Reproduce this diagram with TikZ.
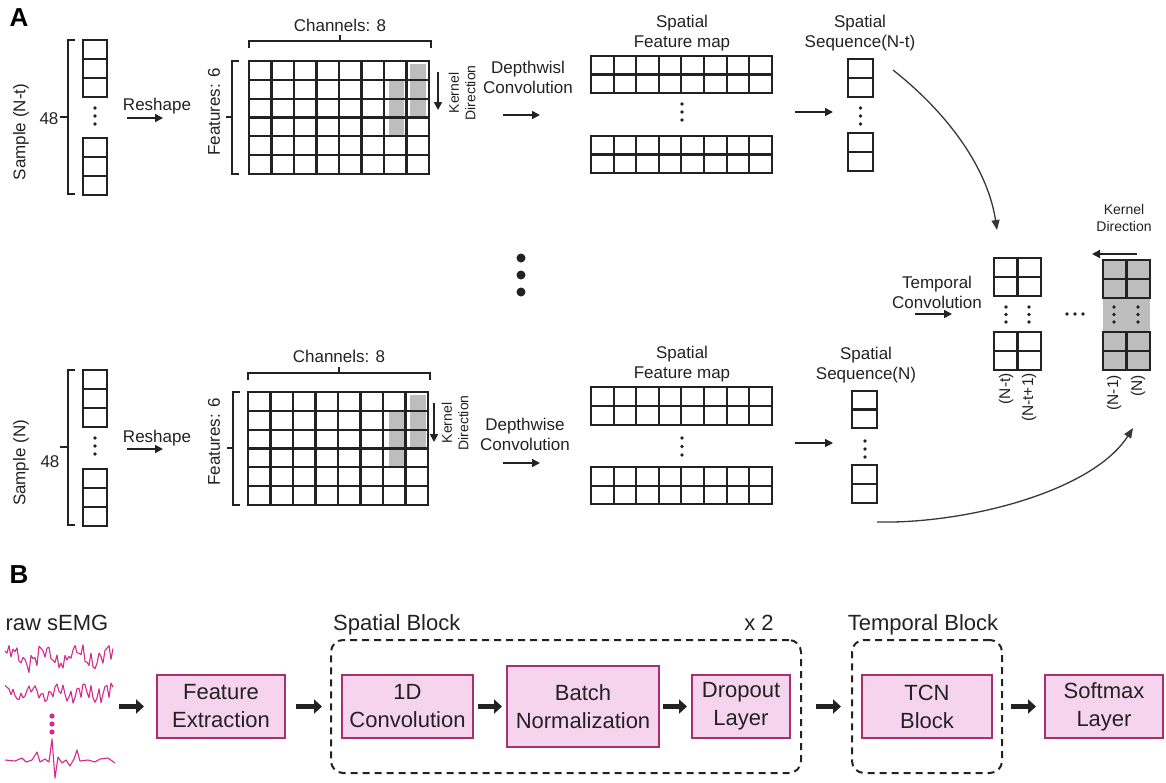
\documentclass[tikz,border=0pt]{standalone}
\usepackage{fontspec}
\setmainfont{Liberation Sans}
\usetikzlibrary{arrows.meta, positioning, fit}
\definecolor{emg}{HTML}{D52A8A}
\definecolor{blockfill}{HTML}{F7D4EE}
\definecolor{blockline}{HTML}{A5326C}
\definecolor{kernelgray}{HTML}{BDBDBD}
\definecolor{ink}{HTML}{222222}
\tikzset{
  cell/.style={draw=ink, line width=2.1pt},
  lbl/.style={font=\fontsize{17}{20}\selectfont, text=ink, align=center, inner sep=0pt},
  small/.style={font=\fontsize{14}{16.5}\selectfont, text=ink, align=center, inner sep=0pt},
  tiny/.style={font=\fontsize{15.5}{18}\selectfont, text=ink, inner sep=0pt},
  arr/.style={draw=ink, line width=1.6pt, -{Triangle[length=8pt,width=8pt]}},
  curvearr/.style={draw=ink!90, line width=1.3pt, -{Triangle[length=10pt,width=8pt]}},
  brk/.style={draw=ink, line width=1.6pt},
  block/.style={draw=blockline, fill=blockfill, line width=2pt, align=center,
    font=\fontsize{22}{28}\selectfont, text=ink, inner sep=0pt},
  group/.style={draw=ink, dash pattern=on 7pt off 5pt, line width=2pt,
    rounded corners=12pt, inner sep=0pt},
  fat/.style={line width=5pt, ink, -{Triangle[length=8pt,width=14pt]}},
  wave/.style={emg, line width=1.1pt, line join=round},
  btext/.style={font=\fontsize{22}{26}\selectfont, text=ink, inner sep=0pt},
}
% x, y, columns, rows, cell width, cell height
\newcommand{\cellgrid}[6]{%
  \foreach \ci in {1,...,#3}{\foreach \cj in {1,...,#4}{%
    \draw[cell] ({#1+(\ci-1)*#5},{#2+(\cj-1)*#6}) rectangle ++(#5,#6);}}}
% x, y, gap
\newcommand{\tripledots}[3]{%
  \foreach \k in {0,1,2}{\fill[ink] ({#1},{#2+\k*#3}) circle (1.9);}}

\begin{document}
\begin{tikzpicture}[x=1pt, y=-1pt]
  \useasboundingbox (0,0) rectangle (1166,782);

  \node[font=\fontsize{26}{26}\selectfont\bfseries, inner sep=0pt] (labA) at (19,18) {A};
  \node[font=\fontsize{26}{26}\selectfont\bfseries, inner sep=0pt] (labB) at (19,575) {B};

  % sample N-t
  \draw[brk] (75,40) -- (68,40) -- (68,194) -- (75,194) (60,117) -- (68,117);
  \node[lbl] (lenA) at (49,119) {48};
  \node[lbl, rotate=90] (sampA) at (21,132) {Sample (N-t)};
  \cellgrid{83}{40}{1}{3}{24}{19}
  \cellgrid{83}{138}{1}{3}{24}{19}
  \tripledots{95}{108}{8}
  \node[lbl, anchor=base] (reshA) at (157,110) {Reshape};
  \draw[arr] (127,118) -- (163,118);

  % reshaped input N-t
  \fill[kernelgray] (389,80) rectangle (404,136);
  \fill[kernelgray] (410,64) rectangle (426,117);
  \cellgrid{249}{61}{8}{6}{22.5}{18.83}
  \draw[brk] (249,48) -- (249,41) -- (431,41) -- (431,48) (340,41) -- (340,35);
  \node[lbl, anchor=base] (chanA) at (340,31) {Channels: 8};
  \draw[brk] (239,61) -- (232,61) -- (232,174) -- (239,174) (226,117) -- (232,117);
  \node[lbl, rotate=90] (featA) at (214,112) {Features: 6};
  \draw[arr] (438,72) -- (438,110);
  \node[small, rotate=90] (kernA) at (462,93) {Kernel\\Direction};

  \node[lbl] (dwA) at (528,77) {Depthwisl\\Convolution};
  \draw[arr] (503,115) -- (540,115);

  % spatial feature map N-t
  \cellgrid{591}{56}{8}{2}{22.6}{18.5}
  \cellgrid{591}{136}{8}{2}{22.6}{18.5}
  \tripledots{682}{104}{8}
  \node[lbl] (mapA) at (682,33) {Spatial\\Feature map};
  \draw[arr] (795,112) -- (833,112);

  \cellgrid{848}{59}{1}{2}{25}{19}
  \cellgrid{848}{133}{1}{2}{25}{19}
  \tripledots{860.5}{108}{8}
  \node[lbl] (seqA) at (860,33) {Spatial\\Sequence(N-t)};

  \foreach \k in {258,275,292}{\fill[ink] (521,\k) circle (4.5);}

  % sample N
  \draw[brk] (75,370) -- (68,370) -- (68,525) -- (75,525) (60,447) -- (68,447);
  \node[lbl] (lenB) at (50,462) {48};
  \node[lbl, rotate=90] (sampB) at (21,463) {Sample (N)};
  \cellgrid{83}{370}{1}{3}{24}{19}
  \cellgrid{83}{469}{1}{3}{24}{19}
  \tripledots{95}{438}{8}
  \node[lbl, anchor=base] (reshB) at (157,442) {Reshape};
  \draw[arr] (127,449) -- (163,449);

  % reshaped input N
  \fill[kernelgray] (389,411) rectangle (404,467);
  \fill[kernelgray] (410,395) rectangle (426,448);
  \cellgrid{248}{392}{8}{6}{22.5}{18.83}
  \draw[brk] (248,380) -- (248,373) -- (430,373) -- (430,380) (339,373) -- (339,367);
  \node[lbl, anchor=base] (chanB) at (339,362) {Channels: 8};
  \draw[brk] (240,392) -- (233,392) -- (233,505) -- (240,505) (227,448) -- (233,448);
  \node[lbl, rotate=90] (featB) at (214,442) {Features: 6};
  \draw[arr] (434,403) -- (434,442);
  \node[small, rotate=90] (kernB) at (455,423) {Kernel\\Direction};

  \node[lbl] (dwB) at (525,434) {Depthwise\\Convolution};
  \draw[arr] (503,463) -- (540,463);

  % spatial feature map N
  \cellgrid{591}{387}{8}{2}{22.6}{18.8}
  \cellgrid{591}{467}{8}{2}{22.6}{18.6}
  \tripledots{682}{438}{8.5}
  \node[lbl] (mapB) at (682,364) {Spatial\\Feature map};
  \draw[arr] (795,443) -- (833,443);

  \cellgrid{852}{391}{1}{2}{25}{18.5}
  \cellgrid{852}{465}{1}{2}{25}{19}
  \tripledots{865}{441}{8}
  \node[lbl] (seqB) at (866,365) {Spatial\\Sequence(N)};

  % temporal convolution
  \node[lbl] (tcA) at (937,292) {Temporal\\Convolution};
  \draw[arr] (915,314) -- (952,314);
  \cellgrid{994}{258}{2}{2}{23.5}{19}
  \cellgrid{994}{332}{2}{2}{23.5}{19}
  \tripledots{1006}{307}{7.5}
  \tripledots{1029}{307}{7.5}
  \foreach \k in {1067,1075,1083}{\fill[ink] (\k,314) circle (1.9);}
  \fill[kernelgray] (1103,260) rectangle (1150,370);
  \cellgrid{1103}{260}{2}{2}{23.5}{19}
  \cellgrid{1103}{332}{2}{2}{23.5}{19}
  \tripledots{1114}{307}{7.5}
  \tripledots{1138}{307}{7.5}
  \draw[arr] (1137,254) -- (1092,254);
  \node[small] (kernT) at (1124,218) {Kernel\\Direction};
  \node[tiny, rotate=90, anchor=east] (stA) at (1006,373) {(N-t)};
  \node[tiny, rotate=90, anchor=east] (stB) at (1029,373) {(N-t+1)};
  \node[tiny, rotate=90, anchor=east] (stC) at (1114,375) {(N-1)};
  \node[tiny, rotate=90, anchor=east] (stD) at (1138,375) {(N)};

  \draw[curvearr] (893,70) .. controls (950,115) and (988,170) .. (997,230);
  \draw[curvearr] (877,522) .. controls (965,524) and (1092,492) .. (1133,428);

  % raw signals
  \node[btext] (raw) at (57,623) {raw sEMG};
  \draw[wave] plot[domain=0:108, samples=55]
    (\x+5, {657 - 7*sin(\x*11+20) - 5*sin(\x*43) - 4*sin(\x*97+60) - 2*sin(\x*131)});
  \draw[wave] plot[domain=0:108, samples=55]
    (\x+5, {693 - 5*sin(\x*14+70) - 5*sin(\x*51+10) - 3*sin(\x*89+40) - 2*sin(\x*127)});
  \foreach \k in {716,724,732}{\fill[emg] (52,\k) circle (2.6);}
  \draw[wave] (5,760) -- (15,761) -- (22,758) -- (26,762) -- (32,760) -- (37,752)
    -- (40,762) -- (45,759) -- (49,762) -- (52,739) -- (55,778) -- (58,757)
    -- (62,763) -- (66,760) -- (70,766) -- (74,759) -- (77,750) -- (80,761)
    -- (88,760) -- (95,762) -- (100,759) -- (108,758) -- (115,763);

  % pipeline
  \node[block, minimum width=128pt, minimum height=63pt] (fe) at (221,706.5) {Feature\\Extraction};
  \node[block, minimum width=131pt, minimum height=63pt] (conv) at (407.5,706.5) {1D\\Convolution};
  \node[block, minimum width=152pt, minimum height=81pt] (bn) at (583,706.5) {Batch\\Normalization};
  \node[block, minimum width=98pt, minimum height=63pt] (drop) at (741,706.5) {Dropout\\Layer};
  \node[group, fit=(conv)(bn)(drop), inner xsep=10pt, inner ysep=25pt] (sblock) {};
  \node[block, minimum width=130pt, minimum height=63pt] (tcn) at (927,706.5) {TCN\\Block};
  \node[group, fit=(tcn), inner xsep=9pt, inner ysep=34pt] (tblock) {};
  \node[block, minimum width=118pt, minimum height=63pt] (soft) at (1104,706.5) {Softmax\\Layer};

  \node[btext, anchor=base west] (sbl) at (333,630) {Spatial Block};
  \node[btext, anchor=base] (rep) at (759,630) {x 2};
  \node[btext, anchor=base] (tbl) at (923,630) {Temporal Block};

  \draw[fat, shorten >=12pt] ([xshift=-37pt]fe.west) -- (fe.west);
  \draw[fat, shorten <=10pt, shorten >=8pt] (fe) -- (sblock);
  \draw[fat, shorten <=4pt, shorten >=4pt] (conv) -- (bn);
  \draw[fat, shorten <=3pt, shorten >=4pt] (bn) -- (drop);
  \draw[fat, shorten <=14pt, shorten >=10pt] (sblock) -- (tblock);
  \draw[fat, shorten <=8pt, shorten >=8pt] (tblock) -- (soft);
\end{tikzpicture}
\end{document}
